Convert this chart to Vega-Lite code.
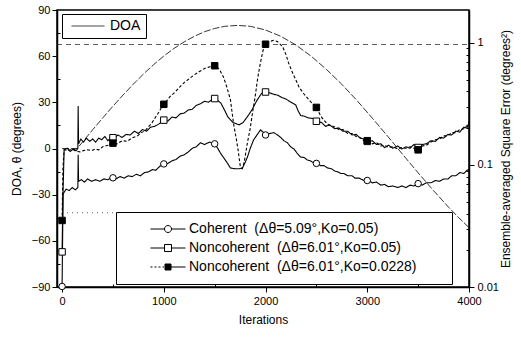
{
  "$schema": "https://vega.github.io/schema/vega-lite/v6.json",
  "width": 412,
  "height": 277,
  "autosize": {"type": "none"},
  "padding": {"left": 57, "top": 10, "right": 52, "bottom": 50},
  "background": "white",
  "config": {
    "font": "Liberation Sans",
    "view": {"stroke": "black", "strokeWidth": 1.5},
    "axis": {"domainColor": "black", "domainWidth": 1.5, "tickColor": "black", "tickWidth": 1, "labelColor": "black", "titleColor": "black", "labelFontSize": 11, "titleFontSize": 12, "titleFontWeight": "normal", "grid": false}
  },
  "datasets": {
    "doa": [
      {"iter": 0, "theta": 0}, {"iter": 148, "theta": 0}, {"iter": 200, "theta": 4.1}, {"iter": 300, "theta": 12.1}, {"iter": 400, "theta": 19.9}, {"iter": 500, "theta": 27.5}, {"iter": 600, "theta": 34.8}, {"iter": 700, "theta": 41.8}, {"iter": 800, "theta": 48.4}, {"iter": 900, "theta": 54.5}, {"iter": 1000, "theta": 60.1}, {"iter": 1100, "theta": 65.0}, {"iter": 1200, "theta": 69.3}, {"iter": 1300, "theta": 72.9}, {"iter": 1400, "theta": 75.9}, {"iter": 1500, "theta": 78.0}, {"iter": 1600, "theta": 79.4}, {"iter": 1724, "theta": 80}, {"iter": 1850, "theta": 79.4}, {"iter": 2000, "theta": 77.0}, {"iter": 2150, "theta": 72.9}, {"iter": 2300, "theta": 67.2}, {"iter": 2450, "theta": 59.9}, {"iter": 2600, "theta": 51.3}, {"iter": 2750, "theta": 41.7}, {"iter": 2900, "theta": 31.1}, {"iter": 3050, "theta": 19.7}, {"iter": 3200, "theta": 8.0}, {"iter": 3350, "theta": -4.0}, {"iter": 3500, "theta": -15.8}, {"iter": 3650, "theta": -27.3}, {"iter": 3800, "theta": -38.2}, {"iter": 3900, "theta": -45.0}, {"iter": 4000, "theta": -51.4}
    ],
    "err": [
      {"iter": 0, "err": 0.0101, "series": "C"}, {"iter": 10, "err": 0.058, "series": "C"}, {"iter": 40, "err": 0.0634, "series": "C"}, {"iter": 70, "err": 0.0616, "series": "C"}, {"iter": 100, "err": 0.0653, "series": "C"}, {"iter": 130, "err": 0.0625, "series": "C"}, {"iter": 155, "err": 0.0653, "series": "C"}, {"iter": 158, "err": 0.121, "series": "C"}, {"iter": 162, "err": 0.0735, "series": "C"}, {"iter": 190, "err": 0.0757, "series": "C"}, {"iter": 220, "err": 0.0724, "series": "C"}, {"iter": 250, "err": 0.0768, "series": "C"}, {"iter": 290, "err": 0.0735, "series": "C"}, {"iter": 330, "err": 0.0757, "series": "C"}, {"iter": 370, "err": 0.0735, "series": "C"}, {"iter": 410, "err": 0.0768, "series": "C"}, {"iter": 450, "err": 0.0757, "series": "C"}, {"iter": 490, "err": 0.0791, "series": "C"}, {"iter": 530, "err": 0.0768, "series": "C"}, {"iter": 570, "err": 0.0803, "series": "C"}, {"iter": 610, "err": 0.078, "series": "C"}, {"iter": 650, "err": 0.0815, "series": "C"}, {"iter": 690, "err": 0.0803, "series": "C"}, {"iter": 730, "err": 0.0839, "series": "C"}, {"iter": 770, "err": 0.0815, "series": "C"}, {"iter": 810, "err": 0.0865, "series": "C"}, {"iter": 850, "err": 0.0878, "series": "C"}, {"iter": 890, "err": 0.0917, "series": "C"}, {"iter": 920, "err": 0.0904, "series": "C"}, {"iter": 960, "err": 0.0973, "series": "C"}, {"iter": 1000, "err": 0.102, "series": "C"}, {"iter": 1040, "err": 0.103, "series": "C"}, {"iter": 1080, "err": 0.108, "series": "C"}, {"iter": 1120, "err": 0.111, "series": "C"}, {"iter": 1160, "err": 0.118, "series": "C"}, {"iter": 1200, "err": 0.121, "series": "C"}, {"iter": 1241, "err": 0.128, "series": "C"}, {"iter": 1280, "err": 0.137, "series": "C"}, {"iter": 1320, "err": 0.141, "series": "C"}, {"iter": 1360, "err": 0.152, "series": "C"}, {"iter": 1400, "err": 0.147, "series": "C"}, {"iter": 1450, "err": 0.154, "series": "C"}, {"iter": 1500, "err": 0.149, "series": "C"}, {"iter": 1530, "err": 0.137, "series": "C"}, {"iter": 1557, "err": 0.125, "series": "C"}, {"iter": 1600, "err": 0.111, "series": "C"}, {"iter": 1630, "err": 0.102, "series": "C"}, {"iter": 1655, "err": 0.0944, "series": "C"}, {"iter": 1700, "err": 0.093, "series": "C"}, {"iter": 1740, "err": 0.093, "series": "C"}, {"iter": 1773, "err": 0.0944, "series": "C"}, {"iter": 1800, "err": 0.105, "series": "C"}, {"iter": 1822, "err": 0.116, "series": "C"}, {"iter": 1850, "err": 0.137, "series": "C"}, {"iter": 1882, "err": 0.16, "series": "C"}, {"iter": 1920, "err": 0.178, "series": "C"}, {"iter": 1951, "err": 0.194, "series": "C"}, {"iter": 1980, "err": 0.184, "series": "C"}, {"iter": 2000, "err": 0.176, "series": "C"}, {"iter": 2040, "err": 0.181, "series": "C"}, {"iter": 2080, "err": 0.184, "series": "C"}, {"iter": 2118, "err": 0.176, "series": "C"}, {"iter": 2150, "err": 0.168, "series": "C"}, {"iter": 2180, "err": 0.158, "series": "C"}, {"iter": 2215, "err": 0.152, "series": "C"}, {"iter": 2246, "err": 0.141, "series": "C"}, {"iter": 2280, "err": 0.135, "series": "C"}, {"iter": 2310, "err": 0.125, "series": "C"}, {"iter": 2345, "err": 0.116, "series": "C"}, {"iter": 2380, "err": 0.115, "series": "C"}, {"iter": 2410, "err": 0.11, "series": "C"}, {"iter": 2440, "err": 0.108, "series": "C"}, {"iter": 2473, "err": 0.104, "series": "C"}, {"iter": 2510, "err": 0.103, "series": "C"}, {"iter": 2540, "err": 0.0987, "series": "C"}, {"iter": 2575, "err": 0.0987, "series": "C"}, {"iter": 2611, "err": 0.0944, "series": "C"}, {"iter": 2650, "err": 0.093, "series": "C"}, {"iter": 2680, "err": 0.0891, "series": "C"}, {"iter": 2710, "err": 0.0878, "series": "C"}, {"iter": 2739, "err": 0.0852, "series": "C"}, {"iter": 2770, "err": 0.0852, "series": "C"}, {"iter": 2808, "err": 0.0815, "series": "C"}, {"iter": 2850, "err": 0.0815, "series": "C"}, {"iter": 2880, "err": 0.078, "series": "C"}, {"iter": 2920, "err": 0.078, "series": "C"}, {"iter": 2966, "err": 0.0746, "series": "C"}, {"iter": 3010, "err": 0.0746, "series": "C"}, {"iter": 3050, "err": 0.0714, "series": "C"}, {"iter": 3090, "err": 0.0724, "series": "C"}, {"iter": 3133, "err": 0.0683, "series": "C"}, {"iter": 3170, "err": 0.0693, "series": "C"}, {"iter": 3210, "err": 0.0663, "series": "C"}, {"iter": 3250, "err": 0.0673, "series": "C"}, {"iter": 3300, "err": 0.0653, "series": "C"}, {"iter": 3340, "err": 0.0673, "series": "C"}, {"iter": 3380, "err": 0.0653, "series": "C"}, {"iter": 3420, "err": 0.0683, "series": "C"}, {"iter": 3458, "err": 0.0673, "series": "C"}, {"iter": 3500, "err": 0.0703, "series": "C"}, {"iter": 3540, "err": 0.0683, "series": "C"}, {"iter": 3580, "err": 0.0714, "series": "C"}, {"iter": 3626, "err": 0.0714, "series": "C"}, {"iter": 3670, "err": 0.0746, "series": "C"}, {"iter": 3710, "err": 0.0735, "series": "C"}, {"iter": 3750, "err": 0.0768, "series": "C"}, {"iter": 3793, "err": 0.0768, "series": "C"}, {"iter": 3830, "err": 0.0815, "series": "C"}, {"iter": 3870, "err": 0.0815, "series": "C"}, {"iter": 3910, "err": 0.0865, "series": "C"}, {"iter": 3950, "err": 0.0852, "series": "C"}, {"iter": 3980, "err": 0.0904, "series": "C"}, {"iter": 4000, "err": 0.0917, "series": "C"},

      {"iter": 0, "err": 0.0194, "series": "N1"}, {"iter": 8, "err": 0.0547, "series": "N1"}, {"iter": 20, "err": 0.133, "series": "N1"}, {"iter": 50, "err": 0.137, "series": "N1"}, {"iter": 80, "err": 0.129, "series": "N1"}, {"iter": 110, "err": 0.135, "series": "N1"}, {"iter": 140, "err": 0.131, "series": "N1"}, {"iter": 155, "err": 0.137, "series": "N1"}, {"iter": 158, "err": 0.304, "series": "N1"}, {"iter": 162, "err": 0.149, "series": "N1"}, {"iter": 185, "err": 0.163, "series": "N1"}, {"iter": 210, "err": 0.154, "series": "N1"}, {"iter": 240, "err": 0.166, "series": "N1"}, {"iter": 270, "err": 0.156, "series": "N1"}, {"iter": 300, "err": 0.163, "series": "N1"}, {"iter": 330, "err": 0.154, "series": "N1"}, {"iter": 360, "err": 0.166, "series": "N1"}, {"iter": 390, "err": 0.161, "series": "N1"}, {"iter": 420, "err": 0.171, "series": "N1"}, {"iter": 450, "err": 0.158, "series": "N1"}, {"iter": 480, "err": 0.168, "series": "N1"}, {"iter": 510, "err": 0.166, "series": "N1"}, {"iter": 550, "err": 0.176, "series": "N1"}, {"iter": 590, "err": 0.168, "series": "N1"}, {"iter": 630, "err": 0.178, "series": "N1"}, {"iter": 670, "err": 0.176, "series": "N1"}, {"iter": 710, "err": 0.189, "series": "N1"}, {"iter": 750, "err": 0.181, "series": "N1"}, {"iter": 790, "err": 0.195, "series": "N1"}, {"iter": 830, "err": 0.189, "series": "N1"}, {"iter": 870, "err": 0.204, "series": "N1"}, {"iter": 910, "err": 0.207, "series": "N1"}, {"iter": 950, "err": 0.216, "series": "N1"}, {"iter": 1000, "err": 0.233, "series": "N1"}, {"iter": 1040, "err": 0.229, "series": "N1"}, {"iter": 1080, "err": 0.247, "series": "N1"}, {"iter": 1120, "err": 0.243, "series": "N1"}, {"iter": 1160, "err": 0.262, "series": "N1"}, {"iter": 1200, "err": 0.266, "series": "N1"}, {"iter": 1240, "err": 0.282, "series": "N1"}, {"iter": 1280, "err": 0.286, "series": "N1"}, {"iter": 1320, "err": 0.308, "series": "N1"}, {"iter": 1360, "err": 0.317, "series": "N1"}, {"iter": 1400, "err": 0.332, "series": "N1"}, {"iter": 1440, "err": 0.327, "series": "N1"}, {"iter": 1490, "err": 0.352, "series": "N1"}, {"iter": 1530, "err": 0.337, "series": "N1"}, {"iter": 1560, "err": 0.322, "series": "N1"}, {"iter": 1600, "err": 0.278, "series": "N1"}, {"iter": 1630, "err": 0.247, "series": "N1"}, {"iter": 1680, "err": 0.223, "series": "N1"}, {"iter": 1740, "err": 0.213, "series": "N1"}, {"iter": 1780, "err": 0.223, "series": "N1"}, {"iter": 1830, "err": 0.254, "series": "N1"}, {"iter": 1870, "err": 0.286, "series": "N1"}, {"iter": 1910, "err": 0.332, "series": "N1"}, {"iter": 1960, "err": 0.385, "series": "N1"}, {"iter": 2000, "err": 0.396, "series": "N1"}, {"iter": 2040, "err": 0.39, "series": "N1"}, {"iter": 2080, "err": 0.379, "series": "N1"}, {"iter": 2120, "err": 0.373, "series": "N1"}, {"iter": 2160, "err": 0.357, "series": "N1"}, {"iter": 2200, "err": 0.347, "series": "N1"}, {"iter": 2246, "err": 0.328, "series": "N1"}, {"iter": 2297, "err": 0.31, "series": "N1"}, {"iter": 2320, "err": 0.278, "series": "N1"}, {"iter": 2345, "err": 0.254, "series": "N1"}, {"iter": 2380, "err": 0.251, "series": "N1"}, {"iter": 2420, "err": 0.243, "series": "N1"}, {"iter": 2473, "err": 0.24, "series": "N1"}, {"iter": 2510, "err": 0.226, "series": "N1"}, {"iter": 2550, "err": 0.223, "series": "N1"}, {"iter": 2590, "err": 0.207, "series": "N1"}, {"iter": 2630, "err": 0.213, "series": "N1"}, {"iter": 2680, "err": 0.198, "series": "N1"}, {"iter": 2720, "err": 0.201, "series": "N1"}, {"iter": 2760, "err": 0.189, "series": "N1"}, {"iter": 2808, "err": 0.189, "series": "N1"}, {"iter": 2850, "err": 0.176, "series": "N1"}, {"iter": 2890, "err": 0.178, "series": "N1"}, {"iter": 2930, "err": 0.166, "series": "N1"}, {"iter": 2966, "err": 0.163, "series": "N1"}, {"iter": 3010, "err": 0.154, "series": "N1"}, {"iter": 3050, "err": 0.158, "series": "N1"}, {"iter": 3090, "err": 0.147, "series": "N1"}, {"iter": 3133, "err": 0.149, "series": "N1"}, {"iter": 3170, "err": 0.139, "series": "N1"}, {"iter": 3210, "err": 0.145, "series": "N1"}, {"iter": 3250, "err": 0.137, "series": "N1"}, {"iter": 3300, "err": 0.143, "series": "N1"}, {"iter": 3340, "err": 0.135, "series": "N1"}, {"iter": 3380, "err": 0.141, "series": "N1"}, {"iter": 3420, "err": 0.137, "series": "N1"}, {"iter": 3458, "err": 0.147, "series": "N1"}, {"iter": 3500, "err": 0.139, "series": "N1"}, {"iter": 3540, "err": 0.147, "series": "N1"}, {"iter": 3580, "err": 0.149, "series": "N1"}, {"iter": 3626, "err": 0.158, "series": "N1"}, {"iter": 3670, "err": 0.156, "series": "N1"}, {"iter": 3710, "err": 0.168, "series": "N1"}, {"iter": 3750, "err": 0.166, "series": "N1"}, {"iter": 3793, "err": 0.178, "series": "N1"}, {"iter": 3830, "err": 0.176, "series": "N1"}, {"iter": 3870, "err": 0.189, "series": "N1"}, {"iter": 3910, "err": 0.186, "series": "N1"}, {"iter": 3950, "err": 0.204, "series": "N1"}, {"iter": 3980, "err": 0.201, "series": "N1"}, {"iter": 4000, "err": 0.219, "series": "N1"},

      {"iter": 0, "err": 0.0351, "series": "N2"}, {"iter": 8, "err": 0.093, "series": "N2"}, {"iter": 20, "err": 0.133, "series": "N2"}, {"iter": 60, "err": 0.131, "series": "N2"}, {"iter": 100, "err": 0.135, "series": "N2"}, {"iter": 140, "err": 0.129, "series": "N2"}, {"iter": 177, "err": 0.128, "series": "N2"}, {"iter": 210, "err": 0.131, "series": "N2"}, {"iter": 250, "err": 0.133, "series": "N2"}, {"iter": 290, "err": 0.131, "series": "N2"}, {"iter": 325, "err": 0.135, "series": "N2"}, {"iter": 360, "err": 0.133, "series": "N2"}, {"iter": 400, "err": 0.141, "series": "N2"}, {"iter": 450, "err": 0.145, "series": "N2"}, {"iter": 493, "err": 0.152, "series": "N2"}, {"iter": 540, "err": 0.149, "series": "N2"}, {"iter": 590, "err": 0.158, "series": "N2"}, {"iter": 640, "err": 0.156, "series": "N2"}, {"iter": 690, "err": 0.167, "series": "N2"}, {"iter": 740, "err": 0.173, "series": "N2"}, {"iter": 780, "err": 0.184, "series": "N2"}, {"iter": 820, "err": 0.192, "series": "N2"}, {"iter": 847, "err": 0.205, "series": "N2"}, {"iter": 880, "err": 0.219, "series": "N2"}, {"iter": 920, "err": 0.247, "series": "N2"}, {"iter": 950, "err": 0.27, "series": "N2"}, {"iter": 985, "err": 0.304, "series": "N2"}, {"iter": 1020, "err": 0.327, "series": "N2"}, {"iter": 1060, "err": 0.363, "series": "N2"}, {"iter": 1113, "err": 0.396, "series": "N2"}, {"iter": 1160, "err": 0.439, "series": "N2"}, {"iter": 1200, "err": 0.473, "series": "N2"}, {"iter": 1250, "err": 0.509, "series": "N2"}, {"iter": 1300, "err": 0.548, "series": "N2"}, {"iter": 1350, "err": 0.582, "series": "N2"}, {"iter": 1400, "err": 0.617, "series": "N2"}, {"iter": 1450, "err": 0.636, "series": "N2"}, {"iter": 1488, "err": 0.655, "series": "N2"}, {"iter": 1520, "err": 0.636, "series": "N2"}, {"iter": 1550, "err": 0.599, "series": "N2"}, {"iter": 1586, "err": 0.526, "series": "N2"}, {"iter": 1620, "err": 0.433, "series": "N2"}, {"iter": 1655, "err": 0.342, "series": "N2"}, {"iter": 1685, "err": 0.219, "series": "N2"}, {"iter": 1710, "err": 0.168, "series": "N2"}, {"iter": 1730, "err": 0.133, "series": "N2"}, {"iter": 1753, "err": 0.0958, "series": "N2"}, {"iter": 1770, "err": 0.093, "series": "N2"}, {"iter": 1790, "err": 0.105, "series": "N2"}, {"iter": 1822, "err": 0.152, "series": "N2"}, {"iter": 1850, "err": 0.201, "series": "N2"}, {"iter": 1872, "err": 0.267, "series": "N2"}, {"iter": 1900, "err": 0.373, "series": "N2"}, {"iter": 1921, "err": 0.502, "series": "N2"}, {"iter": 1945, "err": 0.655, "series": "N2"}, {"iter": 1970, "err": 0.83, "series": "N2"}, {"iter": 1990, "err": 0.962, "series": "N2"}, {"iter": 2030, "err": 1.02, "series": "N2"}, {"iter": 2080, "err": 1.051, "series": "N2"}, {"iter": 2120, "err": 1.02, "series": "N2"}, {"iter": 2167, "err": 0.934, "series": "N2"}, {"iter": 2200, "err": 0.805, "series": "N2"}, {"iter": 2227, "err": 0.684, "series": "N2"}, {"iter": 2260, "err": 0.582, "series": "N2"}, {"iter": 2296, "err": 0.502, "series": "N2"}, {"iter": 2330, "err": 0.433, "series": "N2"}, {"iter": 2374, "err": 0.385, "series": "N2"}, {"iter": 2440, "err": 0.332, "series": "N2"}, {"iter": 2502, "err": 0.295, "series": "N2"}, {"iter": 2540, "err": 0.254, "series": "N2"}, {"iter": 2571, "err": 0.233, "series": "N2"}, {"iter": 2620, "err": 0.213, "series": "N2"}, {"iter": 2670, "err": 0.207, "series": "N2"}, {"iter": 2720, "err": 0.195, "series": "N2"}, {"iter": 2760, "err": 0.195, "series": "N2"}, {"iter": 2808, "err": 0.181, "series": "N2"}, {"iter": 2850, "err": 0.181, "series": "N2"}, {"iter": 2890, "err": 0.171, "series": "N2"}, {"iter": 2930, "err": 0.168, "series": "N2"}, {"iter": 2966, "err": 0.158, "series": "N2"}, {"iter": 3010, "err": 0.158, "series": "N2"}, {"iter": 3050, "err": 0.149, "series": "N2"}, {"iter": 3090, "err": 0.152, "series": "N2"}, {"iter": 3133, "err": 0.143, "series": "N2"}, {"iter": 3170, "err": 0.145, "series": "N2"}, {"iter": 3210, "err": 0.139, "series": "N2"}, {"iter": 3250, "err": 0.141, "series": "N2"}, {"iter": 3300, "err": 0.135, "series": "N2"}, {"iter": 3340, "err": 0.139, "series": "N2"}, {"iter": 3380, "err": 0.137, "series": "N2"}, {"iter": 3420, "err": 0.141, "series": "N2"}, {"iter": 3458, "err": 0.137, "series": "N2"}, {"iter": 3500, "err": 0.133, "series": "N2"}, {"iter": 3540, "err": 0.143, "series": "N2"}, {"iter": 3580, "err": 0.145, "series": "N2"}, {"iter": 3626, "err": 0.154, "series": "N2"}, {"iter": 3670, "err": 0.161, "series": "N2"}, {"iter": 3710, "err": 0.163, "series": "N2"}, {"iter": 3750, "err": 0.173, "series": "N2"}, {"iter": 3793, "err": 0.173, "series": "N2"}, {"iter": 3830, "err": 0.184, "series": "N2"}, {"iter": 3870, "err": 0.184, "series": "N2"}, {"iter": 3910, "err": 0.195, "series": "N2"}, {"iter": 3950, "err": 0.198, "series": "N2"}, {"iter": 3980, "err": 0.21, "series": "N2"}, {"iter": 4000, "err": 0.226, "series": "N2"}
    ],
    "markers": [
      {"iter": 0, "err": 0.0101, "series": "C"}, {"iter": 500, "err": 0.0785, "series": "C"}, {"iter": 1000, "err": 0.102, "series": "C"}, {"iter": 1500, "err": 0.149, "series": "C"}, {"iter": 2000, "err": 0.176, "series": "C"}, {"iter": 2500, "err": 0.103, "series": "C"}, {"iter": 3000, "err": 0.0746, "series": "C"}, {"iter": 3500, "err": 0.0703, "series": "C"},
      {"iter": 0, "err": 0.0194, "series": "N1"}, {"iter": 500, "err": 0.167, "series": "N1"}, {"iter": 1000, "err": 0.233, "series": "N1"}, {"iter": 1500, "err": 0.35, "series": "N1"}, {"iter": 2000, "err": 0.396, "series": "N1"}, {"iter": 2500, "err": 0.228, "series": "N1"}, {"iter": 3000, "err": 0.156, "series": "N1"}, {"iter": 3500, "err": 0.139, "series": "N1"},
      {"iter": 0, "err": 0.0351, "series": "N2"}, {"iter": 500, "err": 0.151, "series": "N2"}, {"iter": 1000, "err": 0.314, "series": "N2"}, {"iter": 1500, "err": 0.65, "series": "N2"}, {"iter": 2000, "err": 0.975, "series": "N2"}, {"iter": 2500, "err": 0.296, "series": "N2"}, {"iter": 3000, "err": 0.158, "series": "N2"}, {"iter": 3500, "err": 0.133, "series": "N2"}
    ],
    "refs": [
      {"iter0": -50, "iter1": 4000, "err": 0.97, "kind": "upper"},
      {"iter0": -50, "iter1": 700, "err": 0.0406, "kind": "lower"}
    ]
  },
  "resolve": {"scale": {"y": "independent"}},
  "layer": [
    {
      "data": {"name": "doa"},
      "mark": {"type": "line", "color": "black", "strokeWidth": 0.8, "strokeDash": [7, 2]},
      "encoding": {
        "x": {"field": "iter", "type": "quantitative", "title": "Iterations",
          "scale": {"domain": [-50, 4000], "nice": false, "zero": false},
          "axis": {"values": [0, 500, 1000, 1500, 2000, 2500, 3000, 3500, 4000], "format": "d", "labelExpr": "datum.value % 1000 == 0 ? datum.label : ''", "tickSize": {"condition": {"test": "datum.value % 1000 == 0", "value": 5}, "value": -3}, "labelPadding": 3, "titlePadding": 8, "labelFlush": false}},
        "y": {"field": "theta", "type": "quantitative", "title": "DOA, θ (degrees)",
          "scale": {"domain": [-90, 90], "nice": false, "zero": false},
          "axis": {"orient": "left", "values": [-90, -75, -60, -45, -30, -15, 0, 15, 30, 45, 60, 75, 90], "labelExpr": "datum.value % 30 == 0 ? datum.label : ''", "tickSize": {"condition": {"test": "datum.value % 30 == 0", "value": 5}, "value": -3}, "labelPadding": 2, "titlePadding": 8}},
        "color": {"datum": "DOA", "type": "nominal", "scale": {"range": ["black"]},
          "legend": {"orient": "none", "legendX": 5, "legendY": 4, "title": null, "symbolType": "M-3.3,0H3.3", "symbolSize": 100, "symbolStrokeWidth": 0.8, "symbolDash": [1, 0], "labelFontSize": 14, "labelColor": "black", "padding": 5, "symbolOffset": 14, "labelOffset": 15, "strokeColor": "black", "fillColor": "white"}}
      }
    },
    {
      "resolve": {"scale": {"shape": "independent", "fill": "independent", "stroke": "independent"}},
      "layer": [
        {
          "data": {"name": "refs"},
          "transform": [{"filter": "datum.kind == 'upper'"}],
          "mark": {"type": "rule", "color": "#333", "strokeWidth": 0.8, "strokeDash": [5, 4]},
          "encoding": {
            "x": {"field": "iter0", "type": "quantitative", "title": "Iterations", "scale": {"domain": [-50, 4000], "nice": false, "zero": false}},
            "x2": {"field": "iter1"},
            "y": {"field": "err", "type": "quantitative", "title": "Ensemble-averaged Square Error (degrees²)", "scale": {"type": "log", "domain": [0.01, 1.86], "nice": false}}
          }
        },
        {
          "data": {"name": "refs"},
          "transform": [{"filter": "datum.kind == 'lower'"}],
          "mark": {"type": "rule", "color": "#333", "strokeWidth": 0.8, "strokeDash": [1, 4]},
          "encoding": {
            "x": {"field": "iter0", "type": "quantitative", "title": "Iterations", "scale": {"domain": [-50, 4000], "nice": false, "zero": false}},
            "x2": {"field": "iter1"},
            "y": {"field": "err", "type": "quantitative", "title": "Ensemble-averaged Square Error (degrees²)", "scale": {"type": "log", "domain": [0.01, 1.86], "nice": false}}
          }
        },
        {
          "data": {"name": "err"},
          "mark": {"type": "line", "color": "black", "strokeWidth": 1.1},
          "encoding": {
            "x": {"field": "iter", "type": "quantitative", "title": "Iterations", "scale": {"domain": [-50, 4000], "nice": false, "zero": false}},
            "y": {"field": "err", "type": "quantitative", "title": "Ensemble-averaged Square Error (degrees²)",
              "scale": {"type": "log", "domain": [0.01, 1.86], "nice": false},
              "axis": {"orient": "right", "values": [0.01, 0.02, 0.03, 0.04, 0.05, 0.06, 0.07, 0.08, 0.09, 0.1, 0.2, 0.3, 0.4, 0.5, 0.6, 0.7, 0.8, 0.9, 1], "labelExpr": "datum.value == 0.01 ? '0.01' : datum.value == 0.1 ? '0.1' : datum.value == 1 ? '1' : ''", "tickSize": {"condition": {"test": "datum.value == 0.01 || datum.value == 0.1 || datum.value == 1", "value": 5}, "value": -3}, "labelPadding": 3, "titlePadding": 14, "titleAngle": 270}},
            "strokeDash": {"field": "series", "type": "nominal", "scale": {"domain": ["C", "N1", "N2"], "range": [[1, 0], [1, 0], [3, 2]]}, "legend": null}
          }
        },
        {
          "data": {"name": "markers"},
          "mark": {"type": "point", "stroke": "black", "strokeWidth": 1, "opacity": 1, "size": 42},
          "encoding": {
            "x": {"field": "iter", "type": "quantitative", "title": "Iterations", "scale": {"domain": [-50, 4000], "nice": false, "zero": false}},
            "y": {"field": "err", "type": "quantitative", "title": "Ensemble-averaged Square Error (degrees²)", "scale": {"type": "log", "domain": [0.01, 1.86], "nice": false}},
            "shape": {"field": "series", "type": "nominal", "scale": {"domain": ["C", "N1", "N2"], "range": ["circle", "square", "square"]}, "legend": null},
            "fill": {"field": "series", "type": "nominal", "scale": {"domain": ["C", "N1", "N2"], "range": ["white", "white", "black"]}, "legend": null}
          }
        },
        {
          "data": {"name": "markers"},
          "transform": [{"filter": "datum.iter > 100000"}],
          "mark": {"type": "point", "strokeWidth": 1, "opacity": 1},
          "encoding": {
            "x": {"field": "iter", "type": "quantitative", "title": "Iterations", "scale": {"domain": [-50, 4000], "nice": false, "zero": false}},
            "y": {"field": "err", "type": "quantitative", "title": "Ensemble-averaged Square Error (degrees²)", "scale": {"type": "log", "domain": [0.01, 1.86], "nice": false}},
            "shape": {"field": "series", "type": "nominal", "title": null,
              "scale": {"domain": ["C", "N1", "N2"], "range": ["M-3.5,0H-0.7M0.7,0H3.5M-0.7,0A0.7,0.7,0,1,1,0.7,0A0.7,0.7,0,1,1,-0.7,0Z", "M-3.5,0H-0.7M0.7,0H3.5M-0.7,-0.7H0.7V0.7H-0.7Z", "M-3.5,0H-3.1M-2.7,0H-2.3M-1.9,0H-1.5M-1.1,0H-0.8M0.6,0H3.5M-0.6,-0.6H0.6V0.6H-0.6Z"]},
              "legend": {"orient": "none", "legendX": 59, "legendY": 202, "title": null, "symbolSize": 100, "symbolStrokeWidth": 1, "labelFontSize": 14, "labelColor": "black", "labelLimit": 500, "labelOffset": 14, "symbolOffset": 35, "padding": 10, "rowPadding": 5, "strokeColor": "black", "fillColor": "white",
                "labelExpr": "datum.label == 'C' ? 'Coherent\u00a0\u00a0(Δθ=5.09°,Ko=0.05)' : datum.label == 'N1' ? 'Noncoherent\u00a0\u00a0(Δθ=6.01°,Ko=0.05)' : 'Noncoherent\u00a0\u00a0(Δθ=6.01°,Ko=0.0228)\u00a0\u00a0\u00a0\u00a0\u2800'"}},
            "fill": {"field": "series", "type": "nominal", "title": null,
              "scale": {"domain": ["C", "N1", "N2"], "range": ["white", "white", "black"]}},
            "stroke": {"field": "series", "type": "nominal", "title": null,
              "scale": {"domain": ["C", "N1", "N2"], "range": ["black", "black", "black"]}}
          }
        }
      ]
    }
  ]
}
